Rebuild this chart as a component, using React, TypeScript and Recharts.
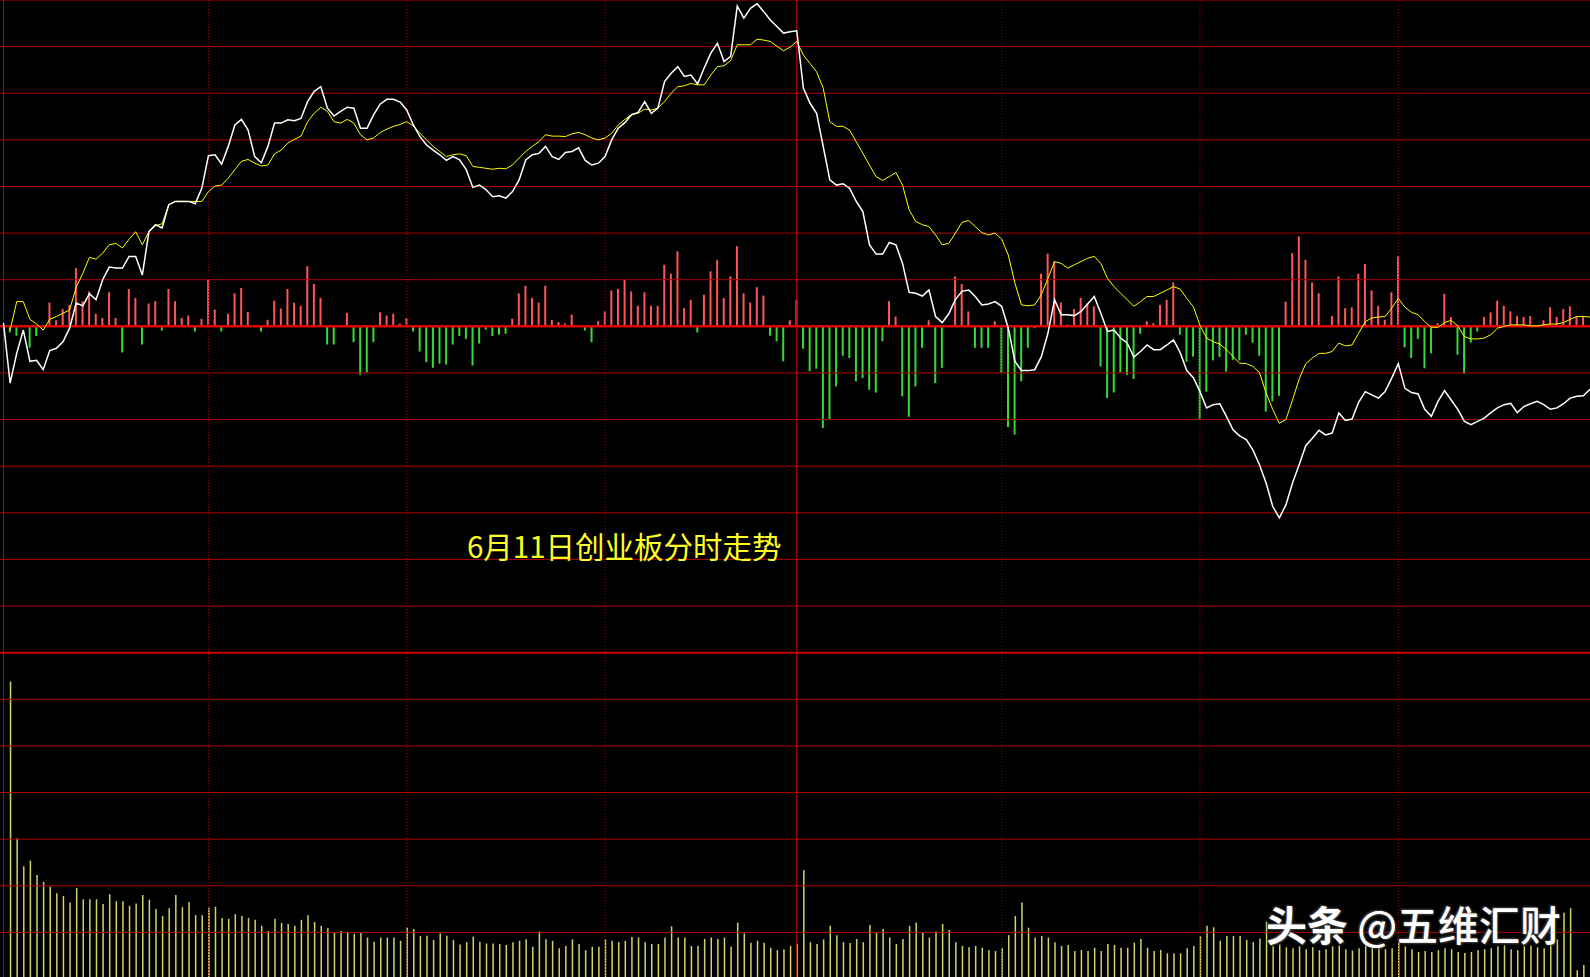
import { ComposedChart, Line, Bar, Cell, XAxis, YAxis, ReferenceLine } from 'recharts';

// minute index 0..240, values in grid units (one horizontal grid step = 1)
const WHITE = [
  0.07, -1.22, -0.58, -0.08, -0.75, -0.73, -0.93, -0.52, -0.47, -0.33,
  -0.04, 0.50, 0.44, 0.70, 0.57, 1.00, 1.27, 1.25, 1.25, 1.50,
  1.50, 1.10, 2.03, 2.18, 2.11, 2.61, 2.68, 2.68, 2.68, 2.63,
  2.96, 3.66, 3.68, 3.48, 3.86, 4.32, 4.44, 4.21, 3.64, 3.51,
  3.86, 4.36, 4.36, 4.43, 4.41, 4.46, 4.82, 5.04, 5.14, 4.68,
  4.51, 4.61, 4.70, 4.68, 4.25, 4.25, 4.54, 4.77, 4.87, 4.87,
  4.81, 4.64, 4.32, 4.07, 3.89, 3.78, 3.68, 3.56, 3.64, 3.57,
  3.36, 2.98, 3.03, 2.93, 2.78, 2.80, 2.75, 2.89, 3.14, 3.57,
  3.68, 3.71, 3.86, 3.64, 3.58, 3.73, 3.75, 3.83, 3.56, 3.46,
  3.50, 3.64, 4.00, 4.25, 4.37, 4.54, 4.59, 4.82, 4.57, 4.68,
  5.25, 5.43, 5.57, 5.36, 5.39, 5.20, 5.54, 5.86, 6.07, 5.68,
  5.79, 6.87, 6.61, 6.82, 6.92, 6.75, 6.57, 6.43, 6.29, 6.32,
  6.34, 5.11, 4.79, 4.57, 3.86, 3.14, 3.03, 3.06, 2.96, 2.68,
  2.46, 1.75, 1.55, 1.55, 1.80, 1.75, 1.35, 0.73, 0.71, 0.65,
  0.78, 0.21, 0.08, 0.27, 0.58, 0.75, 0.78, 0.64, 0.46, 0.48,
  0.53, 0.43, -0.04, -0.75, -0.95, -0.95, -0.93, -0.65, -0.15, 0.57,
  0.25, 0.25, 0.23, 0.32, 0.48, 0.64, 0.28, -0.11, -0.08, -0.25,
  -0.36, -0.66, -0.54, -0.40, -0.50, -0.50, -0.40, -0.29, -0.56, -0.95,
  -1.10, -1.40, -1.75, -1.68, -1.66, -1.93, -2.22, -2.35, -2.43, -2.65,
  -2.97, -3.36, -3.86, -4.11, -3.83, -3.36, -2.97, -2.56, -2.40, -2.23,
  -2.33, -2.29, -1.86, -2.02, -1.99, -1.63, -1.40, -1.47, -1.54, -1.40,
  -1.11, -0.80, -1.33, -1.42, -1.45, -1.78, -1.93, -1.61, -1.38, -1.58,
  -1.78, -2.04, -2.11, -2.04, -1.97, -1.85, -1.75, -1.68, -1.65, -1.85,
  -1.72, -1.66, -1.61, -1.68, -1.78, -1.75, -1.66, -1.54, -1.50, -1.49,
  -1.35,
];

const YELLOW = [
  null, -0.08, 0.53, 0.53, 0.15, 0.05, -0.08, 0.15, 0.21, 0.28,
  0.35, 0.84, 1.14, 1.48, 1.44, 1.57, 1.75, 1.78, 1.68, 1.87,
  2.03, 1.75, 2.03, 2.16, 2.20, 2.61, 2.68, 2.68, 2.68, 2.68,
  2.68, 2.89, 3.01, 3.03, 3.18, 3.36, 3.54, 3.58, 3.50, 3.44,
  3.46, 3.70, 3.78, 3.93, 4.01, 4.08, 4.39, 4.57, 4.70, 4.61,
  4.39, 4.36, 4.44, 4.36, 4.11, 4.00, 4.04, 4.16, 4.23, 4.29,
  4.33, 4.39, 4.30, 4.14, 4.00, 3.86, 3.75, 3.64, 3.68, 3.70,
  3.66, 3.43, 3.41, 3.39, 3.37, 3.39, 3.38, 3.46, 3.61, 3.75,
  3.86, 3.96, 4.11, 4.08, 4.08, 4.07, 4.13, 4.16, 4.11, 4.04,
  4.00, 4.04, 4.14, 4.32, 4.44, 4.54, 4.57, 4.66, 4.64, 4.68,
  4.82, 5.00, 5.14, 5.16, 5.21, 5.18, 5.18, 5.39, 5.57, 5.59,
  5.70, 6.04, 6.04, 6.04, 6.16, 6.14, 6.11, 6.01, 5.91, 5.99,
  6.11, 5.82, 5.64, 5.46, 5.11, 4.39, 4.29, 4.29, 4.21, 3.96,
  3.71, 3.46, 3.21, 3.13, 3.21, 3.30, 3.03, 2.50, 2.25, 2.18,
  2.14, 1.96, 1.75, 1.78, 2.00, 2.23, 2.27, 2.14, 2.01, 1.96,
  2.00, 1.87, 1.53, 0.93, 0.46, 0.44, 0.46, 0.68, 1.03, 1.39,
  1.35, 1.25, 1.32, 1.39, 1.46, 1.50, 1.35, 1.03, 0.85, 0.71,
  0.57, 0.43, 0.53, 0.64, 0.64, 0.71, 0.78, 0.85, 0.80, 0.60,
  0.42, 0.02, -0.25, -0.33, -0.38, -0.50, -0.65, -0.79, -0.80, -0.86,
  -0.99, -1.43, -1.78, -2.08, -2.00, -1.58, -1.13, -0.80, -0.68, -0.58,
  -0.58, -0.54, -0.36, -0.42, -0.40, -0.15, 0.10, 0.18, 0.20, 0.21,
  0.39, 0.60, 0.41, 0.30, 0.25, 0.10, -0.02, -0.02, 0.08, 0.13,
  0.01, -0.22, -0.27, -0.27, -0.25, -0.18, -0.04, 0.00, 0.03, 0.03,
  0.03, 0.01, 0.01, 0.03, 0.05, 0.05, 0.08, 0.15, 0.21, 0.21,
  0.20,
];

// red/green buy-sell bars around the zero line
const DIFF = [
  0, -0.13, -0.20, 0, -0.46, -0.21, 0, 0.51, 0.13, 0.37,
  0.46, 1.25, 0.54, 0.75, 0.27, 0.18, 0.73, 0.18, -0.56, 0.80,
  0.61, -0.39, 0.49, 0.54, -0.09, 0.80, 0.54, 0.18, 0.23, -0.11,
  0.16, 1.00, 0.36, -0.11, 0.27, 0.71, 0.82, 0.31, 0, -0.11,
  0.14, 0.55, 0.38, 0.80, 0.51, 0.44, 1.29, 0.91, 0.61, -0.39,
  -0.39, 0, 0.29, -0.34, -1.04, -0.99, -0.34, 0.30, 0.23, 0.27,
  0.06, 0.18, -0.11, -0.54, -0.77, -0.89, -0.80, -0.82, -0.39, -0.21,
  -0.27, -0.84, -0.37, -0.07, -0.21, -0.18, -0.16, 0.16, 0.71, 0.87,
  0.61, 0.51, 0.87, 0.14, 0.09, 0.06, 0.25, 0, -0.09, -0.34,
  0.11, 0.32, 0.77, 0.80, 1.00, 0.75, 0.44, 0.73, 0.44, 0.44,
  1.32, 1.13, 1.61, 0.39, 0.57, -0.13, 0.68, 1.18, 1.42, 0.61,
  1.07, 1.72, 0.71, 0.51, 0.84, 0.66, -0.20, -0.32, -0.75, 0.13,
  0.57, -0.48, -0.96, -0.91, -2.18, -1.99, -1.29, -0.63, -0.68, -1.18,
  -1.11, -1.36, -1.42, -0.32, 0.54, 0.21, -1.50, -1.94, -1.29, -0.46,
  0.13, -1.22, -0.89, 0, 1.07, 0.91, 0.32, -0.46, -0.46, -0.46,
  0.11, -1.00, -2.16, -2.32, -1.18, -0.46, -0.04, 1.13, 1.56, 1.39,
  0.51, 0.04, 0.37, 0.61, 0.49, 0.43, -0.86, -1.54, -1.42, -0.99,
  -1.04, -1.13, -0.16, 0.11, 0.07, 0.46, 0.57, 0.94, -0.18, -0.76,
  -0.65, -2.00, -1.40, -0.73, -0.66, -0.97, -0.72, -0.73, -0.18, -0.35,
  -0.63, -1.83, -1.61, -1.49, 0.53, 1.57, 1.93, 1.43, 0.94, 0.71,
  0, 0.22, 1.07, 0.39, 0.41, 1.13, 1.34, 0.77, 0.44, 0.14,
  0.73, 1.50, -0.45, -0.68, -0.27, -0.90, -0.58, 0.07, 0.70, 0.20,
  -0.61, -1.02, -0.35, -0.11, 0.20, 0.30, 0.55, 0.44, 0.32, 0.22,
  0.20, 0.22, 0.01, 0.13, 0.41, 0.20, 0.37, 0.43, 0.21, 0.21,
  0,
];

const VOLUME = [
  0, 6.38, 3.02, 2.42, 2.54, 2.23, 2.08, 1.98, 1.84, 1.78,
  1.64, 1.95, 1.71, 1.71, 1.71, 1.61, 1.82, 1.67, 1.67, 1.57,
  1.62, 1.80, 1.70, 1.50, 1.35, 1.52, 1.80, 1.54, 1.65, 1.37,
  1.37, 1.53, 1.55, 1.31, 1.29, 1.39, 1.35, 1.31, 1.27, 1.14,
  1.03, 1.29, 1.20, 1.18, 1.14, 1.27, 1.37, 1.22, 1.14, 1.09,
  0.99, 1.03, 1.01, 0.97, 0.99, 0.89, 0.80, 0.89, 0.89, 0.89,
  0.82, 1.10, 1.07, 0.92, 0.93, 0.84, 0.98, 0.93, 0.84, 0.74,
  0.79, 0.91, 0.80, 0.76, 0.76, 0.75, 0.73, 0.79, 0.82, 0.85,
  0.69, 1.02, 0.85, 0.82, 0.66, 0.71, 0.85, 0.75, 0.62, 0.69,
  0.69, 0.85, 0.82, 0.79, 0.82, 0.90, 0.89, 0.79, 0.75, 0.75,
  0.89, 1.13, 0.89, 0.89, 0.71, 0.71, 0.86, 0.89, 0.86, 0.89,
  0.69, 1.21, 0.98, 0.78, 0.82, 0.78, 0.67, 0.62, 0.64, 0.71,
  0.75, 2.34, 0.79, 0.75, 0.85, 1.14, 0.94, 0.79, 0.77, 0.86,
  0.79, 1.16, 0.99, 1.07, 0.89, 0.75, 0.86, 1.14, 1.21, 0.99,
  0.89, 1.02, 1.18, 1.05, 0.79, 0.71, 0.68, 0.71, 0.67, 0.62,
  0.60, 0.67, 0.94, 1.35, 1.64, 1.10, 0.89, 0.92, 0.89, 0.79,
  0.71, 0.73, 0.60, 0.62, 0.60, 0.67, 0.60, 0.75, 0.73, 0.67,
  0.67, 0.78, 0.86, 0.67, 0.60, 0.62, 0.55, 0.55, 0.55, 0.66,
  0.71, 0.92, 1.14, 1.11, 0.82, 0.92, 0.92, 0.92, 0.84, 0.79,
  0.87, 1.23, 0.70, 0.74, 0.68, 0.66, 0.70, 0.64, 0.68, 0.62,
  0.64, 0.70, 0.72, 0.64, 0.61, 0.66, 0.72, 0.74, 0.70, 0.64,
  0.66, 0.78, 0.70, 0.64, 0.58, 0.60, 0.58, 0.62, 0.66, 0.64,
  0.58, 0.56, 0.58, 0.62, 0.64, 0.66, 0.70, 0.72, 0.64, 0.62,
  0.70, 0.72, 0.68, 0.66, 0.77, 0.85, 1.42, 1.52, 0.19, 0.30,
  0,
];

const PRICE_ROWS = [7, 6, 5, 4, 3, 2, 1, -1, -2, -3, -4, -5, -6, -8, -9, -10, -11, -12, -13];
const ZERO_ROW = 0;
const SPLIT_ROW = -7;
const DOTTED_COLS = [31, 61, 91, 151, 181, 211];
const SOLID_COLS = [0, 120];

const TITLE = '6月11日创业板分时走势';

const rows = WHITE.map((w, i) => ({ i, w, y: YELLOW[i], d: DIFF[i], v: VOLUME[i] }));

const X_DOMAIN = [-0.53, 240];

export default function App() {
  return (
    <div style={{ position: 'fixed', left: 0, top: 0, width: 1590, height: 977, background: '#000', overflow: 'hidden' }}>
      <ComposedChart width={1590} height={979} data={rows} margin={{ top: 0, right: 0, bottom: 0, left: 0 }}>
        <XAxis xAxisId="a" type="number" dataKey="i" domain={X_DOMAIN} allowDataOverflow hide />
        <XAxis xAxisId="b" type="number" dataKey="i" domain={X_DOMAIN} allowDataOverflow hide />
        <YAxis yAxisId="p" domain={[-14, 7]} allowDataOverflow hide />
        <YAxis yAxisId="v" domain={[0, 21]} allowDataOverflow hide />

        {PRICE_ROWS.map((r) => (
          <ReferenceLine key={'h' + r} xAxisId="a" yAxisId="p" y={r} stroke="#b00000" strokeWidth={1} />
        ))}
        {DOTTED_COLS.map((c) => (
          <ReferenceLine key={'v' + c} xAxisId="a" yAxisId="p" x={c} stroke="#a00000" strokeDasharray="1 2" />
        ))}
        {SOLID_COLS.map((c) => (
          <ReferenceLine key={'s' + c} xAxisId="a" yAxisId="p" x={c} stroke="#c00000" strokeWidth={1} />
        ))}
        <ReferenceLine xAxisId="a" yAxisId="p" y={SPLIT_ROW} stroke="#c80000" strokeWidth={2} />

        <Bar xAxisId="b" yAxisId="v" dataKey="v" fill="#d2d26a" barSize={1.5} isAnimationActive={false} />
        <Bar xAxisId="a" yAxisId="p" dataKey="d" barSize={2} isAnimationActive={false}>
          {rows.map((r) => (
            <Cell key={r.i} fill={r.d >= 0 ? '#ff5656' : '#36d936'} />
          ))}
        </Bar>
        <ReferenceLine xAxisId="a" yAxisId="p" y={ZERO_ROW} stroke="#e00000" strokeWidth={2.5} />

        <Line xAxisId="a" yAxisId="p" dataKey="y" type="linear" stroke="#ffff00" strokeWidth={1} dot={false} activeDot={false} isAnimationActive={false} />
        <Line xAxisId="a" yAxisId="p" dataKey="w" type="linear" stroke="#ffffff" strokeWidth={1.5} dot={false} activeDot={false} isAnimationActive={false} />
      </ComposedChart>

      <div style={{
        position: 'absolute', left: 467, top: 530, fontFamily: '"Noto Sans CJK SC", sans-serif',
        fontSize: 29.5, lineHeight: '30px', color: '#ffff22', whiteSpace: 'nowrap',
      }}>
        {TITLE}
      </div>

      <div style={{
        position: 'absolute', left: 1266, top: 903, fontFamily: '"Noto Sans CJK SC", sans-serif',
        fontSize: 41, lineHeight: '41px', color: '#ffffff', whiteSpace: 'nowrap',
        textShadow: '1px 1px 2px #444, -1px -1px 2px #444',
      }}>
        <span style={{ fontWeight: 700 }}>头条</span>
        <span style={{ fontWeight: 500 }}> @五维汇财</span>
      </div>
    </div>
  );
}
